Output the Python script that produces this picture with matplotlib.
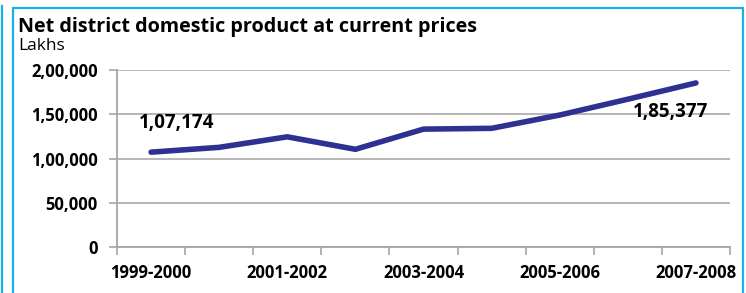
import numpy as np
import matplotlib
matplotlib.use('Agg')
import matplotlib.pyplot as plt
from matplotlib.patches import Rectangle
from matplotlib.lines import Line2D

# data
years = ["1999-2000", "2000-2001", "2001-2002", "2002-2003", "2003-2004",
         "2004-2005", "2005-2006", "2006-2007", "2007-2008"]
ndp_lakhs = [107174, 112600, 124500, 110400, 133200, 134100, 149100, 167000, 185377]
y_ticks = [0, 50000, 100000, 150000, 200000]
y_tick_labels = ["0", "50,000", "1,00,000", "1,50,000", "2,00,000"]
point_labels = {0: "1,07,174", 8: "1,85,377"}

plt.rcParams['font.family'] = ['Open Sans', 'DejaVu Sans']

W, H = 746, 293
fig = plt.figure(figsize=(W / 100, H / 100), dpi=100)

# cyan frames around the chart
fig.patches.append(Rectangle((13 / W, -0.1), 730 / W, 1.1 - 8 / H,
                             transform=fig.transFigure, fill=False,
                             edgecolor='#1ab0e8', linewidth=1.6))
fig.lines.append(Line2D([2 / W, 2 / W], [0, 1 - 6 / H], transform=fig.transFigure,
                        color='#1ab0e8', linewidth=1.6))

ax = fig.add_axes([117 / W, 1 - 247 / H, (730 - 117) / W, (247 - 70) / H])

x = np.arange(len(years))
ax.plot(x, ndp_lakhs, color='#2e3192', linewidth=4, solid_capstyle='round', zorder=3)

for i, txt in point_labels.items():
    if i == 0:
        ax.annotate(txt, (x[i], ndp_lakhs[i]), xytext=(25, 29), textcoords='offset pixels',
                    ha='center', va='center', fontsize=13.5, fontweight='bold')
    else:
        ax.annotate(txt, (x[i], ndp_lakhs[i]), xytext=(-25, -29), textcoords='offset pixels',
                    ha='center', va='center', fontsize=13.5, fontweight='bold')

ax.set_xlim(-0.5, len(years) - 0.5)
ax.set_ylim(0, 200000)
ax.set_yticks(y_ticks)
ax.set_yticklabels(y_tick_labels, fontsize=12, fontweight='bold')
ax.set_xticks(x[::2])
ax.set_xticklabels(years[::2], fontsize=12, fontweight='bold')
ax.tick_params(axis='x', length=0, pad=12)
ax.tick_params(axis='y', length=6, color='#a6a6a6', width=1.2, pad=8)

# category boundary ticks below x axis
ax.set_xticks(np.arange(-0.5, len(years), 1), minor=True)
ax.tick_params(axis='x', which='minor', length=6, color='#a6a6a6', width=1.2)

ax.grid(axis='y', color='#b0b0b0', linewidth=1.3)
ax.set_axisbelow(True)
for s in ['top', 'right']:
    ax.spines[s].set_visible(False)
for s in ['left', 'bottom']:
    ax.spines[s].set_color('#a6a6a6')
    ax.spines[s].set_linewidth(1.3)

fig.text(18 / W, 1 - 27 / H, "Net district domestic product at current prices",
         fontsize=14.2, fontweight='bold', ha='left', va='center')
fig.text(18 / W, 1 - 46 / H, "Lakhs", fontsize=12.5, ha='left', va='center')

fig.savefig('out.png', dpi=100)
